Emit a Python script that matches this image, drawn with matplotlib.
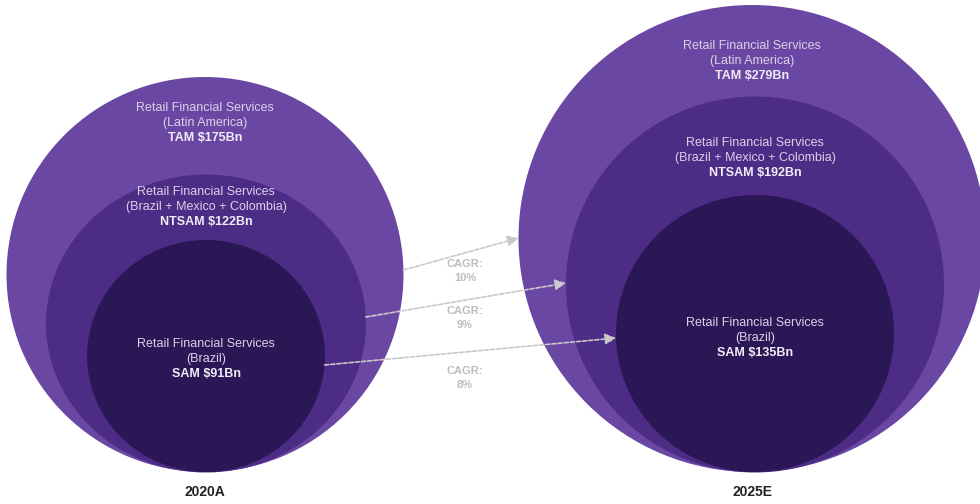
import matplotlib.pyplot as plt
from matplotlib.patches import Ellipse

years = ["2020A", "2025E"]
segments = ["TAM", "NTSAM", "SAM"]
regions = ["(Latin America)", "(Brazil + Mexico + Colombia)", "(Brazil)"]
market_2020 = [175, 122, 91]
market_2025 = [279, 192, 135]
cagr = [10, 9, 8]

# ring geometry in pixels: (cx, cy, width, height), outer -> inner
rings_2020 = [(205, 274.5, 397, 395), (206, 323.5, 320, 298), (206, 356, 238, 232)]
rings_2025 = [(752, 238.5, 467, 467), (755, 284.5, 378, 376), (755, 333.5, 278, 277)]
label_y_2020 = [108, 192, 344]
label_y_2025 = [46, 143, 323]
arrow_y = [(270, 238), (317, 283), (365, 338)]
cagr_y = [271, 318, 378]
fills = ["#6b47a4", "#4c2c85", "#2b1656"]

plt.rcParams["font.family"] = ["Liberation Sans", "DejaVu Sans"]

fig = plt.figure(figsize=(9.8, 5.04), dpi=100)
ax = fig.add_axes([0, 0, 1, 1])
ax.set_xlim(0, 980)
ax.set_ylim(504, 0)
ax.axis("off")


def edge_x(ring, y, side):
    cx, cy, w, h = ring
    a, b = w / 2, h / 2
    dx = a * (1 - ((y - cy) / b) ** 2) ** 0.5
    return cx + side * dx


def draw_year(rings, values, label_y, year):
    for ring, color in zip(rings, fills):
        cx, cy, w, h = ring
        ax.add_patch(Ellipse((cx, cy), w, h, facecolor=color, edgecolor="none"))
    for i, ring in enumerate(rings):
        cx = ring[0]
        y = label_y[i]
        ax.text(cx, y, "Retail Financial Services", ha="center", va="center",
                fontsize=9, color="#d9d2e6")
        ax.text(cx, y + 15, regions[i], ha="center", va="center",
                fontsize=9, color="#d9d2e6")
        ax.text(cx, y + 30, f"{segments[i]} ${values[i]}Bn", ha="center",
                va="center", fontsize=9, fontweight="bold", color="#f0edf6")
    cx, cy, w, h = rings[0]
    ax.text(cx, 492, year, ha="center", va="center", fontsize=10,
            fontweight="bold", color="#222222")


draw_year(rings_2020, market_2020, label_y_2020, years[0])
draw_year(rings_2025, market_2025, label_y_2025, years[1])

# growth arrows between matching rings
for i in range(3):
    y0, y1 = arrow_y[i]
    x0 = edge_x(rings_2020[i], y0, 1)
    x1 = edge_x(rings_2025[i], y1, -1)
    ax.annotate("", xy=(x1, y1), xytext=(x0, y0),
                arrowprops=dict(arrowstyle="-|>", color="#c9c9c9", lw=1.2,
                                linestyle=(0, (2.5, 1.2)), mutation_scale=16,
                                shrinkA=0, shrinkB=0))
    ax.text(465, cagr_y[i], f"CAGR:\n{cagr[i]}%", ha="center", va="center",
            fontsize=8, fontweight="bold", color="#bdbdbd", linespacing=1.4)

fig.savefig("out.png", dpi=100)
